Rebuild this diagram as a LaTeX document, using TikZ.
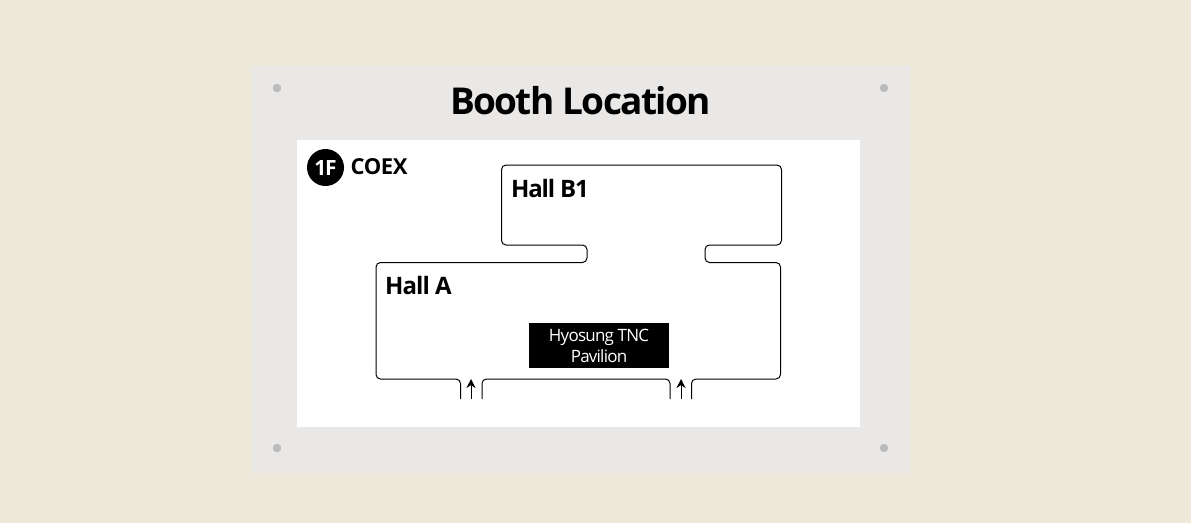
\documentclass[tikz,border=0pt]{standalone}
\usepackage{fontspec}
\setmainfont{Open Sans}
\usetikzlibrary{arrows.meta}
\definecolor{pagebg}{HTML}{ECE8DA}
\definecolor{panelbg}{HTML}{E9E8E6}
\definecolor{pindot}{HTML}{BBBBBB}
\tikzset{
  pin/.style={circle,fill=pindot,inner sep=0pt,minimum size=8.5pt},
  wall/.style={draw=black,line width=1pt,rounded corners=4.5pt},
  hallname/.style={font=\fontsize{24}{24}\selectfont\bfseries,anchor=base west,inner sep=0pt},
  entry/.style={draw=black,line width=1pt,-{Stealth[length=9pt,width=9pt]}},
}
\begin{document}
\begin{tikzpicture}[x=1pt,y=-1pt]
\useasboundingbox (0,0) rectangle (1191,523);
\fill[pagebg] (0,0) rectangle (1191,523);
\fill[panelbg] (252,66) rectangle (910,473);
\fill[white] (297,140) rectangle (860,427);
\node[pin] (p1) at (277,88) {};
\node[pin] (p2) at (884,88) {};
\node[pin] (p3) at (277,448) {};
\node[pin] (p4) at (884,448) {};
\node[font=\fontsize{37}{37}\selectfont\bfseries,inner sep=0pt,anchor=base] (title) at (580.5,114) {\addfontfeature{LetterSpace=-4.5}Booth Location};
\node[circle,fill=black,minimum size=37pt,inner sep=0pt,text=white,font=\fontsize{21}{21}\selectfont\bfseries] (floor) at (325.5,167.5) {\addfontfeature{LetterSpace=-6}1F};
\node[hallname,font=\fontsize{22}{22}\selectfont\bfseries] (coex) at (350.5,174) {\addfontfeature{LetterSpace=-2}COEX};
\node[hallname] (hb) at (511,197) {\addfontfeature{LetterSpace=-5}Hall B1};
\node[hallname] (ha) at (385,294) {\addfontfeature{LetterSpace=-4}Hall A};
\node[fill=black,minimum width=140pt,minimum height=45pt,inner sep=0pt] (booth) at (599,345) {};
\node[text=white,inner sep=0pt,align=center,font=\fontsize{17}{20.5}\selectfont] (boothtext) at (599,346) {\addfontfeature{LetterSpace=-4.5}Hyosung TNC\\\addfontfeature{LetterSpace=-4.5}Pavilion};
\draw[wall] (460.5,399) -- (460.5,379) -- (376,379) -- (376,262.5) -- (587,262.5) -- (587,245) -- (501.5,245) -- (501.5,165) -- (781.5,165) -- (781.5,245) -- (705,245) -- (705,262.5) -- (780.5,262.5) -- (780.5,379) -- (691.5,379) -- (691.5,399);
\draw[wall] (482,399) -- (482,379) -- (670,379) -- (670,399);
\coordinate (a1s) at (471,399);
\coordinate (a1e) at (471,379);
\coordinate (a2s) at (681,399);
\coordinate (a2e) at (681,379);
\draw[entry] (a1s) -- (a1e);
\draw[entry] (a2s) -- (a2e);
\end{tikzpicture}
\end{document}
